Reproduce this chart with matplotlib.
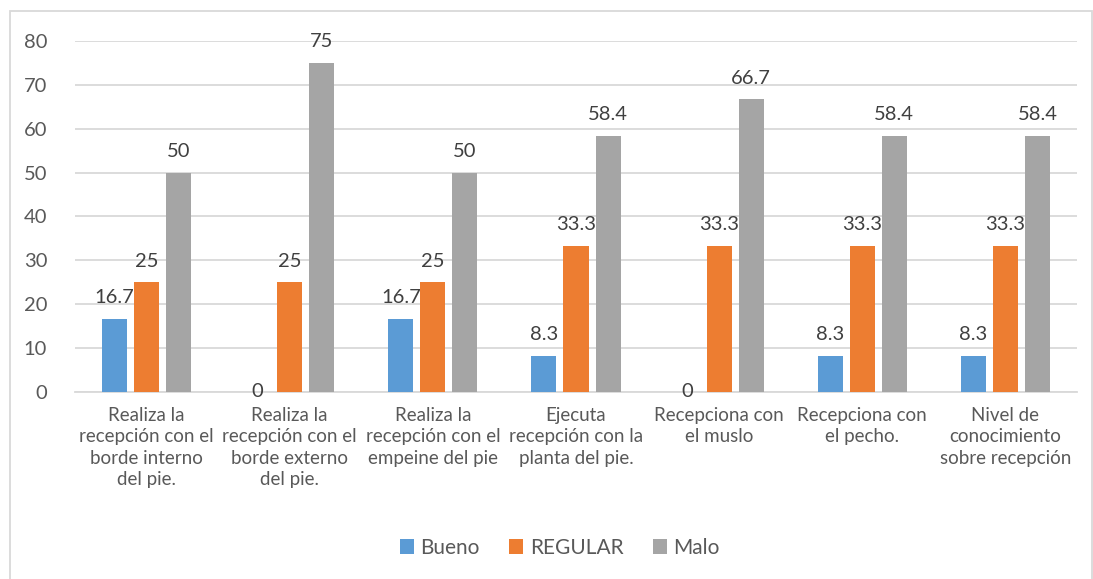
import matplotlib
matplotlib.use("Agg")
import matplotlib.pyplot as plt
import numpy as np
from matplotlib.patches import Rectangle

categories = [
    "Realiza la\nrecepción con el\nborde interno\ndel pie.",
    "Realiza la\nrecepción con el\nborde externo\ndel pie.",
    "Realiza la\nrecepción con el\nempeine del pie",
    "Ejecuta\nrecepción con la\nplanta del pie.",
    "Recepciona con\nel muslo",
    "Recepciona con\nel pecho.",
    "Nivel de\nconocimiento\nsobre recepción",
]
bueno = [16.7, 0, 16.7, 8.3, 0, 8.3, 8.3]
regular = [25, 25, 25, 33.3, 33.3, 33.3, 33.3]
malo = [50, 75, 50, 58.4, 66.7, 58.4, 58.4]
series_names = ["Bueno", "REGULAR", "Malo"]
colors = ["#5B9BD5", "#ED7D31", "#A5A5A5"]
yticks = [0, 10, 20, 30, 40, 50, 60, 70, 80]

plt.rcParams['font.family'] = ['Lato', 'DejaVu Sans']
txt = "#595959"

fig = plt.figure(figsize=(10.93, 5.79), dpi=100)
ax = fig.add_axes([0.0686, 0.3230, 0.9854 - 0.0686, 0.9292 - 0.3230])

x = np.arange(len(categories))
step = 0.224
w = 0.175
for i, (vals, name, c) in enumerate(zip([bueno, regular, malo], series_names, colors)):
    pos = x + (i - 1) * step
    ax.bar(pos, vals, width=w, color=c, label=name, zorder=3)
    for xp, v in zip(pos, vals):
        lab = f"{v:g}"
        if v == 0:
            ax.text(xp, v, lab, ha="center", va="center", fontsize=14.5, color="#404040")
        else:
            ax.annotate(lab, (xp, v), xytext=(0, 9), textcoords="offset points",
                        ha="center", va="bottom", fontsize=14.5, color="#404040")

ax.set_xlim(-0.5, len(categories) - 0.5)
ax.set_ylim(0, 80)
ax.set_yticks(yticks)
ax.yaxis.grid(True, color="#D9D9D9", linewidth=1.3, zorder=0)
ax.set_axisbelow(True)
for s in ["top", "right", "left"]:
    ax.spines[s].set_visible(False)
ax.spines["bottom"].set_color("#D9D9D9")
ax.spines["bottom"].set_linewidth(1.3)
ax.tick_params(axis="y", length=0, pad=20, labelsize=14.5, labelcolor=txt)
ax.tick_params(axis="x", length=0, pad=11, labelsize=13.5, labelcolor=txt)
ax.set_xticks(x)
ax.set_xticklabels(categories, linespacing=1.3)

fig.legend(loc="center", bbox_to_anchor=(0.512, 1 - 548 / 579), ncol=3, frameon=False,
           fontsize=15, labelcolor=txt, handlelength=0.7, handleheight=0.7,
           handletextpad=0.3, columnspacing=1.4)

fig.patches.append(Rectangle((10 / 1093, -0.01), (1092 - 10) / 1093, 1 - 11 / 579 + 0.01,
                             transform=fig.transFigure, fill=False, edgecolor="#D9D9D9",
                             linewidth=1.3))

fig.savefig("out.png", dpi=100)
